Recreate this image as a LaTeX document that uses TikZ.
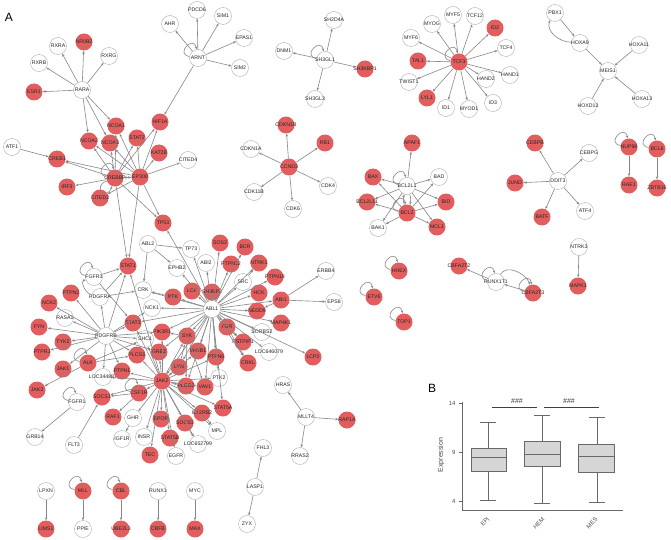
\documentclass[tikz,border=0pt]{standalone}
\usepackage{fontspec}
\setmainfont{Liberation Sans}
\usetikzlibrary{arrows.meta}
\definecolor{nred}{RGB}{226,94,94}
\definecolor{egray}{RGB}{135,135,135}
\definecolor{ngray}{RGB}{175,175,175}
\definecolor{boxfill}{RGB}{214,214,214}
\definecolor{boxline}{RGB}{105,105,105}
\tikzset{
 base/.style={circle, minimum size=17pt, inner sep=0pt, font=\fontsize{5.2}{6}\selectfont, text=black!85},
 wn/.style={base, draw=ngray, line width=0.4pt, fill=white},
 rn/.style={base, fill=nred},
 e/.style={draw=egray, line width=0.6pt, -{Stealth[length=3pt,width=2.4pt]}},
 axisl/.style={draw=boxline, line width=0.6pt},
 bx/.style={draw=boxline, line width=0.8pt, fill=boxfill},
 wh/.style={draw=boxline, line width=0.8pt},
 tk/.style={font=\fontsize{6}{7}\selectfont, text=black!70},
 panel/.style={font=\fontsize{12}{12}\selectfont},
}
\newcommand{\gn}[3]{\node[#1] (#2) at (#3) {\makebox[0pt]{#2}};}
\newcommand{\myloop}[1]{\draw[e] (#1.170) .. controls +(170:15pt) and +(100:15pt) .. (#1.100);}
\begin{document}
\begin{tikzpicture}[x=1pt,y=-1pt]
\useasboundingbox[fill=white] (0,0) rectangle (671,540);
\node[panel] (lA) at (9,17) {A};
\node[panel] (lB) at (432,388) {B};
% white nodes
\gn{wn}{PDCD6}{197,10} \gn{wn}{SIM1}{223,16} \gn{wn}{AHR}{170,24} \gn{wn}{EPAS1}{244,38}
\gn{wn}{ARNT}{198,58} \gn{wn}{SIM2}{240,68} \gn{wn}{RXRA}{58,46} \gn{wn}{RXRG}{109,56}
\gn{wn}{RXRB}{39,63} \gn{wn}{RARA}{82,90} \gn{wn}{ATF1}{12,147} \gn{wn}{CITED4}{188,160}
\gn{wn}{CDKN1A}{251,149} \gn{wn}{CDK4}{328,186} \gn{wn}{CDK11B}{254,192} \gn{wn}{CDK6}{293,209}
\gn{wn}{SH2D4A}{334,20} \gn{wn}{DNM1}{284,51} \gn{wn}{SH3GL1}{325,60} \gn{wn}{SH3GL3}{315,99}
\gn{wn}{MYF5}{453,15} \gn{wn}{MYOG}{432,24} \gn{wn}{MYF6}{411,38} \gn{wn}{TWIST1}{409,82}
\gn{wn}{ID1}{446,108} \gn{wn}{MYOD1}{469,109} \gn{wn}{TCF12}{475,16} \gn{wn}{TCF4}{506,48}
\gn{wn}{HAND2}{486,79} \gn{wn}{HAND1}{510,75} \gn{wn}{ID3}{493,103} \gn{wn}{PBX1}{555,13}
\gn{wn}{HOXA9}{580,43} \gn{wn}{HOXA11}{639,45} \gn{wn}{MEIS1}{608,71} \gn{wn}{HOXD13}{588,106}
\gn{wn}{HOXA13}{642,99} \gn{wn}{BCL2L1}{407,186} \gn{wn}{BAD}{439,177} \gn{wn}{BAK1}{378,228}
\gn{wn}{CEBPG}{589,153} \gn{wn}{DDIT3}{558,181} \gn{wn}{ATF4}{585,211} \gn{wn}{RUNX1T1}{496,282}
\gn{wn}{NTRK3}{579,247} \gn{wn}{HRAS}{283,385} \gn{wn}{MLLT4}{306,417} \gn{wn}{RRAS2}{300,456}
\gn{wn}{FHL3}{263,448} \gn{wn}{LASP1}{255,487} \gn{wn}{ZYX}{247,524} \gn{wn}{LPXN}{46,491}
\gn{wn}{PPIE}{83,529} \gn{wn}{RUNX1}{158,491} \gn{wn}{MYC}{195,491} \gn{wn}{ABL2}{148,244}
\gn{wn}{TP73}{191,249} \gn{wn}{EPHB2}{177,268} \gn{wn}{FGFR3}{94,277} \gn{wn}{CRK}{143,290}
\gn{wn}{PDGFRA}{100,297} \gn{wn}{NCK1}{152,308} \gn{wn}{RASA1}{65,318} \gn{wn}{PDGFRB}{106,336}
\gn{wn}{SHC1}{145,339} \gn{wn}{LOC344887}{103,377} \gn{wn}{FGFR1}{77,402} \gn{wn}{GHR}{133,418}
\gn{wn}{GRB14}{35,437} \gn{wn}{IGF1R}{122,439} \gn{wn}{INSR}{144,437} \gn{wn}{FLT3}{74,445}
\gn{wn}{EGFR}{176,456} \gn{wn}{LOC652799}{198,444} \gn{wn}{MPL}{217,431} \gn{wn}{PTK2}{219,378}
\gn{wn}{ABI2}{206,263} \gn{wn}{SRC}{243,282} \gn{wn}{ERBB4}{326,271} \gn{wn}{EPS8}{334,302}
\gn{wn}{ABL1}{212,309} \gn{wn}{SORBS2}{262,332} \gn{wn}{LOC646079}{269,352}
% red nodes
\gn{rn}{NR0B2}{84,42} \gn{rn}{ESR1}{34,92} \gn{rn}{NCOA1}{116,126} \gn{rn}{HIF1A}{160,122}
\gn{rn}{NCOA2}{89,141} \gn{rn}{NCOA3}{110,143} \gn{rn}{STAT2}{137,138} \gn{rn}{KAT2B}{159,153}
\gn{rn}{CREB1}{57,159} \gn{rn}{CREBBP}{115,178} \gn{rn}{EP300}{140,177} \gn{rn}{IRF3}{67,187}
\gn{rn}{CITED2}{100,198} \gn{rn}{TP53}{163,223} \gn{rn}{STAT1}{128,266} \gn{rn}{CDKN1B}{286,125}
\gn{rn}{RB1}{325,143} \gn{rn}{CCND3}{289,167} \gn{rn}{SH3KBP1}{365,69} \gn{rn}{TAL1}{418,61}
\gn{rn}{TCF3}{459,62} \gn{rn}{LYL1}{427,98} \gn{rn}{ID2}{495,28} \gn{rn}{APAF1}{412,143}
\gn{rn}{BAX}{373,177} \gn{rn}{BCL2L11}{367,202} \gn{rn}{BCL2}{407,213} \gn{rn}{BID}{446,202}
\gn{rn}{MCL1}{437,227} \gn{rn}{CEBPB}{535,143} \gn{rn}{JUND}{515,183} \gn{rn}{BATF}{542,217}
\gn{rn}{NUP98}{629,147} \gn{rn}{RAE1}{629,185} \gn{rn}{BCL6}{657,149} \gn{rn}{ZBTB16}{657,188}
\gn{rn}{HHEX}{399,271} \gn{rn}{ETV6}{374,297} \gn{rn}{TOP1}{404,322} \gn{rn}{CBFA2T2}{459,266}
\gn{rn}{CBFA2T3}{533,293} \gn{rn}{MAPK1}{578,286} \gn{rn}{SOS2}{220,243} \gn{rn}{BCR}{245,247}
\gn{rn}{PTPN12}{231,264} \gn{rn}{NTRK1}{259,263} \gn{rn}{PTPN18}{275,277} \gn{rn}{SH3BP2}{212,292}
\gn{rn}{LCK}{192,291} \gn{rn}{HCK}{259,293} \gn{rn}{ABI1}{281,300} \gn{rn}{BTK}{173,297}
\gn{rn}{NEDD9}{257,311} \gn{rn}{MAP4K1}{281,323} \gn{rn}{FGR}{227,327} \gn{rn}{SYK}{187,336}
\gn{rn}{PSTPIP1}{243,342} \gn{rn}{SH2B1}{198,351} \gn{rn}{PTPN6}{216,357} \gn{rn}{CRKL}{248,363}
\gn{rn}{LCP2}{313,357} \gn{rn}{LYN}{179,367} \gn{rn}{PTPN2}{71,293} \gn{rn}{NCK2}{49,303}
\gn{rn}{STAT3}{133,323} \gn{rn}{FYN}{39,327} \gn{rn}{PIK3R1}{162,332} \gn{rn}{TYK2}{63,342}
\gn{rn}{PTPRJ}{42,352} \gn{rn}{GRB2}{159,352} \gn{rn}{PLCG1}{137,355} \gn{rn}{ALK}{88,363}
\gn{rn}{JAK1}{63,369} \gn{rn}{PTPN1}{122,371} \gn{rn}{JAK2}{162,381} \gn{rn}{PLCG2}{186,386}
\gn{rn}{VAV1}{205,387} \gn{rn}{JAK3}{37,390} \gn{rn}{SOCS1}{102,397} \gn{rn}{CSF1R}{139,393}
\gn{rn}{IL12RB2}{202,413} \gn{rn}{STAT5A}{223,408} \gn{rn}{RAF1}{113,417} \gn{rn}{EPOR}{161,419}
\gn{rn}{SOCS3}{185,423} \gn{rn}{STAT5B}{170,438} \gn{rn}{TEC}{150,455} \gn{rn}{RAP1A}{347,420}
\gn{rn}{LIMS1}{46,529} \gn{rn}{MLL}{83,491} \gn{rn}{CBL}{121,491} \gn{rn}{UBE2L3}{121,529}
\gn{rn}{CBFB}{158,529} \gn{rn}{MAX}{195,529}
% edges
\begin{scope}[on background layer/.try]
\end{scope}
\foreach \a/\b in {ARNT/AHR, ARNT/PDCD6, ARNT/SIM1, ARNT/EPAS1, ARNT/SIM2, ARNT/HIF1A,
 RARA/RXRA, RARA/NR0B2, RARA/RXRG, RARA/RXRB, RARA/ESR1, RARA/NCOA1, RARA/NCOA2, RARA/NCOA3,
 ATF1/CREB1, SH3GL1/SH2D4A, SH3GL1/DNM1, SH3GL1/SH3KBP1, SH3GL1/SH3GL3,
 TCF3/MYF5, TCF3/MYOG, TCF3/MYF6, TCF3/TAL1, TCF3/TWIST1, TCF3/LYL1, TCF3/ID1, TCF3/MYOD1,
 TCF3/ID3, TCF3/HAND2, TCF3/HAND1, TCF3/TCF4, TCF3/ID2, TCF3/TCF12,
 PBX1/HOXA9, HOXA9/MEIS1, HOXA11/MEIS1, HOXD13/MEIS1, HOXA13/MEIS1,
 CCND3/CDKN1B, CCND3/RB1, CCND3/CDKN1A, CCND3/CDK4, CCND3/CDK11B, CCND3/CDK6,
 BCL2L1/APAF1, BCL2L1/BAX, BCL2L1/BAD, BCL2L1/BID, BCL2L1/BCL2L11, BCL2L1/BAK1, BCL2L1/MCL1,
 BCL2/BAX, BCL2/BAD, BCL2/BID, BCL2/BCL2L11, BCL2/BAK1, BCL2/MCL1,
 DDIT3/CEBPB, DDIT3/CEBPG, DDIT3/JUND, DDIT3/BATF, DDIT3/ATF4,
 NUP98/RAE1, BCL6/ZBTB16, RUNX1T1/CBFA2T2, CBFA2T3/RUNX1T1, NTRK3/MAPK1,
 MLLT4/HRAS, MLLT4/RAP1A, MLLT4/RRAS2, LASP1/FHL3, LASP1/ZYX,
 LPXN/LIMS1, MLL/PPIE, CBL/UBE2L3, RUNX1/CBFB, MYC/MAX}
 \draw[e] (\a) -- (\b);
\foreach \a/\b in {CREBBP/CREB1, CREBBP/IRF3, EP300/CITED2, EP300/CITED4, EP300/KAT2B, EP300/HIF1A,
 CREBBP/HIF1A, CREBBP/STAT2, EP300/STAT2, CREBBP/NCOA1, EP300/NCOA1, CREBBP/NCOA2, EP300/NCOA2,
 CREBBP/NCOA3, EP300/NCOA3, CREBBP/EP300, EP300/CREBBP, CREBBP/TP53, EP300/TP53, CREBBP/STAT1,
 EP300/STAT1, EP300/CREB1, ABL1/TP53, ABL2/TP73, ABL2/EPHB2, ABL2/CRK,
 ABL1/SOS2, ABL1/BCR, ABL1/TP73, ABL1/ABI2, ABL1/PTPN12, ABL1/NTRK1, ABL1/SH3BP2, ABL1/SRC,
 SRC/NTRK1, ABL1/PTPN18, ABL1/HCK, ABL1/ABI1, ABI1/ERBB4, ABI1/EPS8, ABL1/NEDD9, ABI1/NEDD9,
 ABL1/MAP4K1, ABL1/FGR, ABL1/SORBS2, ABL1/PSTPIP1, ABL1/LOC646079, ABL1/CRKL, ABL1/LCP2,
 FGR/CRKL, FGR/PSTPIP1, ABL1/PTPN6, ABL1/SH2B1, ABL1/SYK, ABL1/LYN, ABL1/LCK, ABL1/BTK,
 ABL1/EPHB2, ABL1/NCK1, ABL1/CRK, ABL1/PLCG2, ABL1/VAV1, ABL1/PTK2, ABL1/STAT5A, ABL1/JAK2,
 ABL1/GRB2, ABL1/PIK3R1, ABL1/STAT3, BTK/CRK, SYK/VAV1, SYK/PLCG2, LYN/SYK, SYK/PIK3R1,
 PDGFRB/FYN, PDGFRB/RASA1, PDGFRB/PTPN2, PDGFRB/NCK2, PDGFRB/PTPRJ, PDGFRB/TYK2, PDGFRB/PDGFRA,
 PDGFRB/STAT1, PDGFRB/STAT3, PDGFRB/SHC1, PDGFRB/PIK3R1, PDGFRB/GRB2, PDGFRB/PLCG1, PDGFRB/PTPN1,
 PDGFRB/LOC344887, PDGFRB/NCK1, PDGFRB/JAK1, PDGFRA/CRK, FGFR3/STAT1, FGFR3/STAT3, PDGFRA/STAT1,
 JAK2/STAT1, JAK2/STAT3, JAK2/STAT5A, JAK2/STAT5B, JAK2/SOCS1, JAK2/SOCS3, JAK2/EPOR, JAK2/GHR,
 JAK2/INSR, JAK2/TEC, JAK2/EGFR, JAK2/IL12RB2, JAK2/PLCG2, JAK2/VAV1, JAK2/PTK2, JAK2/LYN,
 JAK2/SYK, JAK2/SH2B1, JAK2/GRB2, JAK2/PIK3R1, JAK2/PTPN1, JAK2/PTPN6, JAK2/PLCG1, JAK2/CSF1R,
 JAK2/SHC1, JAK2/LOC652799, JAK2/MPL, JAK2/LOC344887,
 ALK/JAK3, ALK/PLCG1, ALK/SHC1, FGFR1/GRB14, FLT3/SOCS1, GHR/IGF1R, CSF1R/RAF1, CSF1R/SOCS1,
 SOCS3/LOC652799, IL12RB2/MPL}
 \draw[e] (\a) -- (\b);
\draw[e] (BCL2) to[bend left=18] (BCL2L1);
\draw[e] (BCL2L1) to[bend left=18] (BCL2);
\draw[e] (HOXA9.175) to[out=180,in=250] (PBX1.235);
\draw[e] (RUNX1T1.60) to[out=60,in=110] (CBFA2T3.110);
\draw[e] (PDGFRA.165) to[out=170,in=190] (FGFR3.200);
\draw[e] (CREBBP.200) .. controls +(200:16pt) and +(250:16pt) .. (CREBBP.250);
\foreach \n in {ARNT, SH3GL1, TCF3, BCL2L1, BCL2, NUP98, BCL6, HHEX, ETV6, TOP1, RUNX1T1,
 CBFA2T3, MLL, CBL, FGFR1, ALK, FGFR3, CREBBP, CSF1R}
 {\myloop{\n}}
% panel B
\draw[axisl] (462,402) -- (462,510) -- (623,510);
\foreach \v/\yy in {14/403, 9/452, 4/501}{
 \draw[axisl] (459,\yy) -- (462,\yy);
 \node[tk, anchor=east] at (459,\yy) {\v};
}
\node[tk, rotate=90, font=\fontsize{7}{8}\selectfont] (ylab) at (441,455) {Expression};
% EPI
\draw[wh] (488,448) -- (488,422) (480,422) -- (496,422);
\draw[wh] (488,471) -- (488,500) (480,500) -- (496,500);
\draw[bx] (471,448) rectangle (506,471);
\draw[wh] (471,457) -- (506,457);
% HEM
\draw[wh] (542,441) -- (542,415) (534,415) -- (550,415);
\draw[wh] (542,466) -- (542,503) (534,503) -- (550,503);
\draw[bx] (524,441) rectangle (560,466);
\draw[wh] (524,454) -- (560,454);
% MES
\draw[wh] (597,444) -- (597,417) (589,417) -- (605,417);
\draw[wh] (597,472) -- (597,502) (589,502) -- (605,502);
\draw[bx] (578,444) rectangle (614,472);
\draw[wh] (578,456) -- (614,456);
% significance
\draw[draw=black!75, line width=1pt] (492,407) -- (537,407);
\draw[draw=black!75, line width=1pt] (544,407) -- (599,407);
\node[tk, font=\fontsize{7}{8}\selectfont, text=black!80] at (517,401) {\#\#\#};
\node[tk, font=\fontsize{7}{8}\selectfont, text=black!80] at (569,401) {\#\#\#};
\node[tk, rotate=45, anchor=east] at (491,516) {EPI};
\node[tk, rotate=45, anchor=east] at (546,516) {HEM};
\node[tk, rotate=45, anchor=east] at (599,516) {MES};
\end{tikzpicture}
\end{document}
